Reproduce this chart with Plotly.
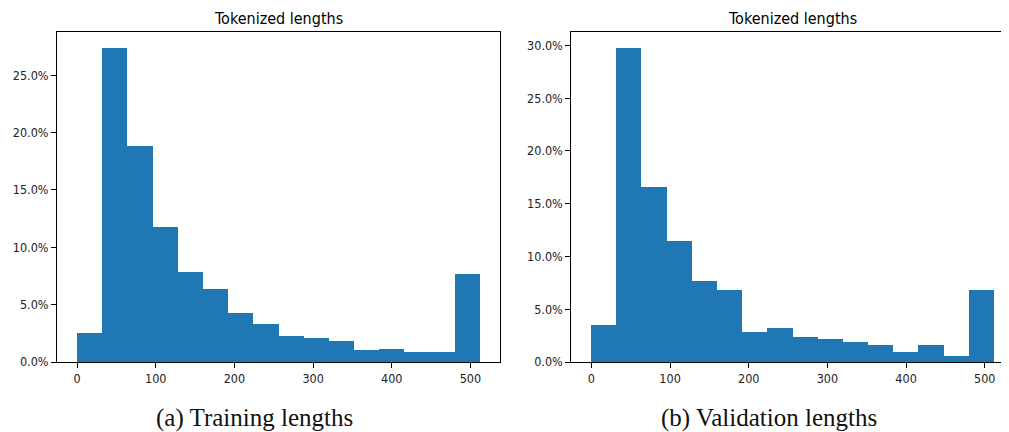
import plotly.graph_objects as go

bin_starts = [0, 32, 64, 96, 128, 160, 192, 224, 256, 288, 320, 352, 384, 416, 448, 480]
bin_width = 32
train_pct = [2.52, 27.40, 18.86, 11.76, 7.85, 6.37, 4.26, 3.27, 2.26, 2.09, 1.85, 1.07, 1.16, 0.87, 0.87, 7.71]
val_pct = [3.46, 29.78, 16.59, 11.43, 7.68, 6.83, 2.86, 3.21, 2.36, 2.17, 1.86, 1.61, 0.94, 1.61, 0.60, 6.83]
x_ticks = [0, 100, 200, 300, 400, 500]
train_yticks = [0, 5, 10, 15, 20, 25]
val_yticks = [0, 5, 10, 15, 20, 25, 30]
titles = ["Tokenized lengths", "Tokenized lengths"]
captions = ["(a) Training lengths", "(b) Validation lengths"]

PAGE_W, PAGE_H = 1009, 432
OFF = 8  # default body margin of the html page
W, H = PAGE_W - OFF, PAGE_H - OFF
BLUE = "#1f77b4"
SANS = "DejaVu Sans Condensed, DejaVu Sans"


def px(x):
    return (x - OFF) / W


def py(y):
    return 1 - (y - OFF) / H


fig = go.Figure()
fig.add_trace(go.Bar(x=bin_starts, y=[v / 100 for v in train_pct], width=bin_width, offset=0,
                     marker=dict(color=BLUE, line=dict(width=0)), xaxis="x", yaxis="y", showlegend=False))
fig.add_trace(go.Bar(x=bin_starts, y=[v / 100 for v in val_pct], width=bin_width, offset=0,
                     marker=dict(color=BLUE, line=dict(width=0)), xaxis="x2", yaxis="y2", showlegend=False))

# page pixel geometry (from the reference)
L1, R1 = 57, 500
L2 = 571.3
TOP, BOT = 32, 362
xmin, xmax = -25.6, 537.6
ppu = (R1 - L1) / (xmax - xmin)
x2max = xmin + (PAGE_W - L2) / ppu

axis_common = dict(showgrid=False, zeroline=False, showline=True, linecolor="#000", linewidth=1,
                   ticks="outside", ticklen=5, tickwidth=1, tickcolor="#000", automargin=False,
                   tickfont=dict(family=SANS, size=12.5, color="#222"))

fig.update_layout(
    width=W, height=H, autosize=False, margin=dict(l=0, r=0, t=0, b=0, pad=0),
    paper_bgcolor="white", plot_bgcolor="white", bargap=0,
    xaxis=dict(domain=[px(L1), px(R1)], range=[xmin, xmax], tickvals=x_ticks, mirror=True,
               anchor="y", **axis_common),
    yaxis=dict(domain=[py(BOT), py(TOP)], range=[0, max(train_pct) * 1.05 / 100],
               tickvals=[t / 100 for t in train_yticks], tickformat=".1%", mirror=True,
               anchor="x", **axis_common),
    xaxis2=dict(domain=[px(L2), 1.0], range=[xmin, x2max], tickvals=x_ticks, mirror=True,
                anchor="y2", **axis_common),
    yaxis2=dict(domain=[py(BOT), py(TOP)], range=[0, max(val_pct) * 1.05 / 100],
                tickvals=[t / 100 for t in val_yticks], tickformat=".1%",
                anchor="x2", **axis_common),
)

centers = [px((L1 + R1) / 2), px(L2 + (R1 - L1) / 2)]
for c, t in zip(centers, titles):
    fig.add_annotation(x=c, y=py(19), xref="paper", yref="paper", text=t, showarrow=False,
                       font=dict(family=SANS, size=16, color="#000"), xanchor="center", yanchor="middle")
cap_centers = [px(254), px(769)]
for c, t in zip(cap_centers, captions):
    fig.add_annotation(x=c, y=py(418), xref="paper", yref="paper", text=t, showarrow=False,
                       font=dict(family="Liberation Serif", size=25, color="#111"), xanchor="center", yanchor="middle")

fig.write_html("out.html")
